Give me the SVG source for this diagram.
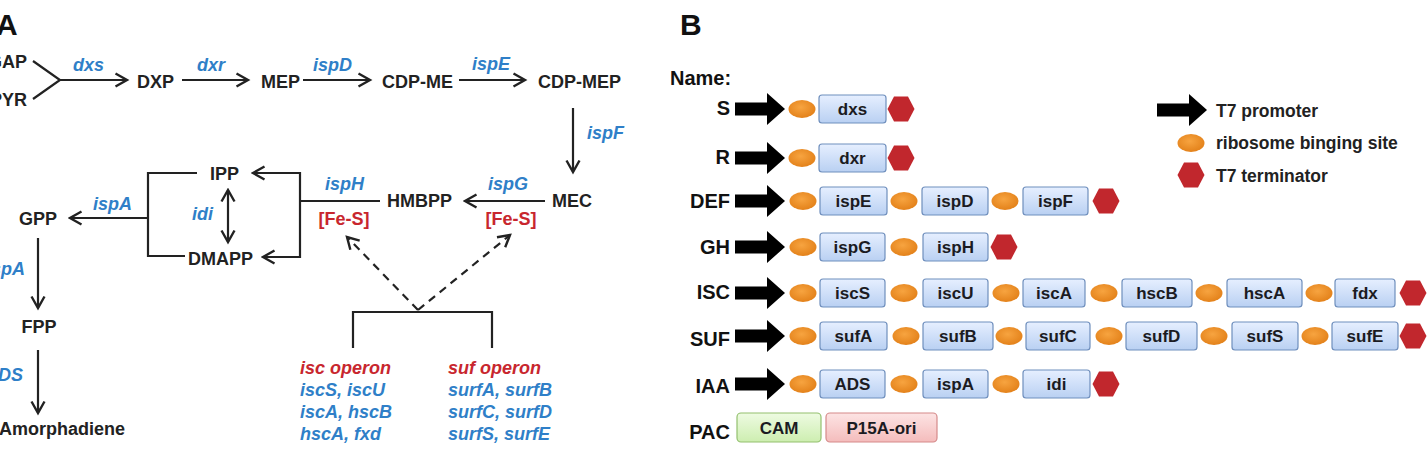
<svg xmlns="http://www.w3.org/2000/svg" width="1428" height="450" viewBox="0 0 1428 450">
<style>
text{font-family:"Liberation Sans",Arial,sans-serif;font-weight:bold}
.m{font-size:18px;fill:#222}
.b{font-size:18px;fill:#2f7fc8;font-style:italic}
.r{font-size:18px;fill:#c8262e}
.ri{font-size:18px;fill:#c8262e;font-style:italic}
.lbl{font-size:20px;fill:#111;text-anchor:end}
.lg{font-size:17.5px;fill:#222}
.g{font-size:17px;fill:#1b1b22;text-anchor:middle}
.ln{fill:none;stroke:#222;stroke-width:2.2}
.ar{marker-end:url(#ah)}
.box{fill:url(#gb);stroke:#6f8fbd;stroke-width:1.2}
</style>
<defs>
<marker id="ah" viewBox="0 0 16 16" markerWidth="16" markerHeight="16" markerUnits="userSpaceOnUse" refX="13.5" refY="8" orient="auto-start-reverse">
<path d="M2,1.5 L13.5,8 L2,14.5" fill="none" stroke="#222" stroke-width="2.4"/>
</marker>
<linearGradient id="gb" x1="0" y1="0" x2="0" y2="1"><stop offset="0" stop-color="#e6efff"/><stop offset="1" stop-color="#b9d0f2"/></linearGradient>
<linearGradient id="gg" x1="0" y1="0" x2="0" y2="1"><stop offset="0" stop-color="#eefbe2"/><stop offset="1" stop-color="#cdeeb0"/></linearGradient>
<linearGradient id="gp" x1="0" y1="0" x2="0" y2="1"><stop offset="0" stop-color="#fde4e4"/><stop offset="1" stop-color="#f4bcbc"/></linearGradient>
<radialGradient id="go" cx="0.45" cy="0.4" r="0.7"><stop offset="0" stop-color="#f7a440"/><stop offset="1" stop-color="#e07c14"/></radialGradient>
<path id="prom" d="M0,-6.5 H32 V-16 L50,0 L32,16 V6.5 H0 Z" fill="#000"/>
<ellipse id="rbs" cx="0" cy="0" rx="13.5" ry="9" fill="url(#go)"/>
<polygon id="term" points="-13.5,0 -7,-12.5 7,-12.5 13.5,0 7,12.5 -7,12.5" fill="#c1272d"/>
</defs>

<!-- Panel A -->
<g id="panelA-label"><text x="-4" y="35" style="font-size:30px;fill:#111">A</text></g>
<g id="n-GAP"><text class="m" x="27" y="68" text-anchor="end">GAP</text></g>
<g id="n-PYR"><text class="m" x="27" y="106" text-anchor="end">PYR</text></g>
<g id="n-DXP"><text class="m" x="137" y="88">DXP</text></g>
<g id="n-MEP"><text class="m" x="261" y="88">MEP</text></g>
<g id="n-CDPME"><text class="m" x="382" y="88">CDP-ME</text></g>
<g id="n-CDPMEP"><text class="m" x="538" y="88">CDP-MEP</text></g>
<g id="n-MEC"><text class="m" x="552" y="207">MEC</text></g>
<g id="n-HMBPP"><text class="m" x="387" y="207">HMBPP</text></g>
<g id="n-IPP"><text class="m" x="210" y="180">IPP</text></g>
<g id="n-DMAPP"><text class="m" x="188" y="265">DMAPP</text></g>
<g id="n-GPP"><text class="m" x="38" y="225" text-anchor="middle">GPP</text></g>
<g id="n-FPP"><text class="m" x="39" y="333" text-anchor="middle">FPP</text></g>
<g id="n-Amorph"><text class="m" x="125" y="435" text-anchor="end">Amorphadiene</text></g>
<g id="fes1"><text class="r" x="344" y="225" text-anchor="middle">[Fe-S]</text></g>
<g id="fes2"><text class="r" x="511" y="225" text-anchor="middle">[Fe-S]</text></g>
<g id="isc-operon">
<text class="ri" x="300" y="374">isc operon</text>
<text class="b" x="300" y="396">iscS, iscU</text>
<text class="b" x="300" y="418">iscA, hscB</text>
<text class="b" x="300" y="440">hscA, fxd</text>
</g>
<g id="suf-operon">
<text class="ri" x="448" y="374">suf operon</text>
<text class="b" x="448" y="396">surfA, surfB</text>
<text class="b" x="448" y="418">surfC, surfD</text>
<text class="b" x="448" y="440">surfS, surfE</text>
</g>
<g id="enzyme-labels">
<text class="b" x="73" y="71">dxs</text>
<text class="b" x="197" y="71">dxr</text>
<text class="b" x="313" y="71">ispD</text>
<text class="b" x="472" y="70">ispE</text>
<text class="b" x="587" y="139">ispF</text>
<text class="b" x="488" y="190">ispG</text>
<text class="b" x="325" y="190">ispH</text>
<text class="b" x="192" y="220">idi</text>
<text class="b" x="93" y="210">ispA</text>
<text class="b" x="25" y="275" text-anchor="end">ispA</text>
<text class="b" x="23" y="381" text-anchor="end">ADS</text>
</g>
<g id="connectors">
<path class="ln" d="M33,61 L60,80 L33,99"/>
<path class="ln ar" d="M60,80 H127"/>
<path class="ln ar" d="M182,80 H248"/>
<path class="ln ar" d="M303,80 H370"/>
<path class="ln ar" d="M459,80 H525"/>
<path class="ln ar" d="M573,108 V172"/>
<path class="ln ar" d="M545,201 H465"/>
<path class="ln" d="M380,201 H300"/>
<path class="ln ar" d="M300,201 V173 H253"/>
<path class="ln ar" d="M300,201 V257 H263"/>
<path class="ln" d="M197,173 H148 V256 H185"/>
<path class="ln ar" d="M148,218 H70"/>
<path class="ln ar" d="M228,190 V242" style="marker-start:url(#ah)"/>
<path class="ln ar" d="M38,238 V308"/>
<path class="ln ar" d="M38,350 V413"/>
<path class="ln ar" d="M418,310 L347,237" stroke-dasharray="8,6"/>
<path class="ln ar" d="M418,310 L510,235" stroke-dasharray="8,6"/>
<path class="ln" d="M353,348 V312 H492 V348"/>
</g>

<!-- Panel B -->
<g id="panelB-label"><text x="680" y="35" style="font-size:30px;fill:#111">B</text></g>
<g id="name-hdr"><text x="670" y="85" style="font-size:20px;fill:#111">Name:</text></g>

<g id="legend">
<use href="#prom" x="1157" y="110"/>
<text class="lg" x="1216" y="117">T7 promoter</text>
<use href="#rbs" x="1191" y="143"/>
<text class="lg" x="1216" y="149">ribosome binging site</text>
<use href="#term" x="1191" y="175"/>
<text class="lg" x="1216" y="182">T7 terminator</text>
</g>

<g id="row-S">
<text class="lbl" x="730" y="115">S</text>
<use href="#prom" x="735" y="109"/><use href="#rbs" x="802" y="109"/>
<rect class="box" x="819" y="95" width="67" height="28" rx="3"/><text class="g" x="852.5" y="115">dxs</text>
<use href="#term" x="901" y="109"/>
</g>
<g id="row-R">
<text class="lbl" x="730" y="164">R</text>
<use href="#prom" x="735" y="158"/><use href="#rbs" x="802" y="158"/>
<rect class="box" x="819" y="144" width="67" height="28" rx="3"/><text class="g" x="852.5" y="164">dxr</text>
<use href="#term" x="901" y="158"/>
</g>
<g id="row-DEF">
<text class="lbl" x="730" y="208">DEF</text>
<use href="#prom" x="735" y="201"/><use href="#rbs" x="803" y="201"/>
<rect class="box" x="820" y="187" width="67" height="28" rx="3"/><text class="g" x="853.5" y="207">ispE</text>
<use href="#rbs" x="904" y="201"/>
<rect class="box" x="922" y="187" width="66" height="28" rx="3"/><text class="g" x="955" y="207">ispD</text>
<use href="#rbs" x="1005" y="201"/>
<rect class="box" x="1023" y="187" width="65" height="28" rx="3"/><text class="g" x="1055.5" y="207">ispF</text>
<use href="#term" x="1106" y="201"/>
</g>
<g id="row-GH">
<text class="lbl" x="730" y="254">GH</text>
<use href="#prom" x="735" y="247"/><use href="#rbs" x="803" y="247"/>
<rect class="box" x="820" y="233" width="65" height="28" rx="3"/><text class="g" x="852.5" y="253">ispG</text>
<use href="#rbs" x="904" y="247"/>
<rect class="box" x="923" y="233" width="65" height="28" rx="3"/><text class="g" x="955.5" y="253">ispH</text>
<use href="#term" x="1004" y="247"/>
</g>
<g id="row-ISC">
<text class="lbl" x="730" y="299">ISC</text>
<use href="#prom" x="735" y="293"/><use href="#rbs" x="803" y="293"/>
<rect class="box" x="820" y="279" width="65" height="28" rx="3"/><text class="g" x="852.5" y="299">iscS</text>
<use href="#rbs" x="904" y="293"/>
<rect class="box" x="923" y="279" width="65" height="28" rx="3"/><text class="g" x="955.5" y="299">iscU</text>
<use href="#rbs" x="1006" y="293"/>
<rect class="box" x="1023" y="279" width="62" height="28" rx="3"/><text class="g" x="1054" y="299">iscA</text>
<use href="#rbs" x="1104" y="293"/>
<rect class="box" x="1122" y="279" width="70" height="28" rx="3"/><text class="g" x="1157" y="299">hscB</text>
<use href="#rbs" x="1209" y="293"/>
<rect class="box" x="1227" y="279" width="75" height="28" rx="3"/><text class="g" x="1264.5" y="299">hscA</text>
<use href="#rbs" x="1319" y="293"/>
<rect class="box" x="1335" y="279" width="60" height="28" rx="3"/><text class="g" x="1365" y="299">fdx</text>
<use href="#term" x="1413" y="293"/>
</g>
<g id="row-SUF">
<text class="lbl" x="730" y="346">SUF</text>
<use href="#prom" x="735" y="336"/><use href="#rbs" x="803" y="336"/>
<rect class="box" x="820" y="322" width="67" height="28" rx="3"/><text class="g" x="853.5" y="342">sufA</text>
<use href="#rbs" x="906" y="336"/>
<rect class="box" x="923" y="322" width="70" height="28" rx="3"/><text class="g" x="958" y="342">sufB</text>
<use href="#rbs" x="1009" y="336"/>
<rect class="box" x="1026" y="322" width="64" height="28" rx="3"/><text class="g" x="1058" y="342">sufC</text>
<use href="#rbs" x="1109" y="336"/>
<rect class="box" x="1126" y="322" width="71" height="28" rx="3"/><text class="g" x="1161.5" y="342">sufD</text>
<use href="#rbs" x="1214" y="336"/>
<rect class="box" x="1232" y="322" width="66" height="28" rx="3"/><text class="g" x="1265" y="342">sufS</text>
<use href="#rbs" x="1315" y="336"/>
<rect class="box" x="1332" y="322" width="66" height="28" rx="3"/><text class="g" x="1365" y="342">sufE</text>
<use href="#term" x="1413" y="336"/>
</g>
<g id="row-IAA">
<text class="lbl" x="730" y="393">IAA</text>
<use href="#prom" x="735" y="384"/><use href="#rbs" x="803" y="384"/>
<rect class="box" x="820" y="370" width="65" height="28" rx="3"/><text class="g" x="852.5" y="390">ADS</text>
<use href="#rbs" x="904" y="384"/>
<rect class="box" x="923" y="370" width="65" height="28" rx="3"/><text class="g" x="955.5" y="390">ispA</text>
<use href="#rbs" x="1006" y="384"/>
<rect class="box" x="1023" y="370" width="67" height="28" rx="3"/><text class="g" x="1056.5" y="390">idi</text>
<use href="#term" x="1106" y="384"/>
</g>
<g id="row-PAC">
<text class="lbl" x="730" y="439">PAC</text>
<rect x="737" y="413" width="84" height="29" rx="4" fill="url(#gg)" stroke="#93c06f" stroke-width="1.2"/><text class="g" x="779" y="434">CAM</text>
<rect x="826" y="413" width="111" height="29" rx="4" fill="url(#gp)" stroke="#d58a8a" stroke-width="1.2"/><text class="g" x="881.5" y="434">P15A-ori</text>
</g>
</svg>
